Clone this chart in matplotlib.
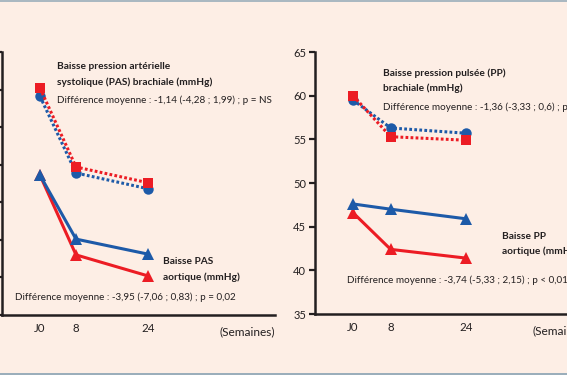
import matplotlib
matplotlib.use("Agg")
import matplotlib.pyplot as plt
from matplotlib.lines import Line2D

plt.rcParams['font.family'] = ['Lato', 'DejaVu Sans']

# ---- data ----
weeks = [0, 8, 24]
tick_labels = ["J0", "8", "24"]

# Left panel: systolic pressure (PAS)
pas_brach_blue = [139.1, 128.9, 126.8]
pas_brach_red = [140.2, 129.7, 127.6]
pas_aort_blue = [128.6, 120.1, 118.1]
pas_aort_red = [128.6, 118.0, 115.2]
pas_yticks = [110, 115, 120, 125, 130, 135, 140, 145]

# Right panel: pulse pressure (PP)
pp_brach_blue = [59.5, 56.3, 55.7]
pp_brach_red = [60.0, 55.3, 54.9]
pp_aort_blue = [47.6, 47.0, 45.9]
pp_aort_red = [46.6, 42.4, 41.4]
pp_yticks = [35, 40, 45, 50, 55, 60, 65]

RED = '#ec1c24'
BLUE = '#1d5aa8'
INK = '#231f20'
BG = '#fdeee5'

W, H = 567, 375
fig = plt.figure(figsize=(W / 100, H / 100), dpi=100, facecolor=BG)


def px_axes(left, bottom_px, width, height):
    return fig.add_axes([left / W, (H - bottom_px) / H, width / W, height / H])


def style(ax, xlim, ylim, yticks, show_ylabels):
    ax.set_facecolor('none')
    ax.set_xlim(*xlim)
    ax.set_ylim(*ylim)
    for s in ['top', 'right']:
        ax.spines[s].set_visible(False)
    for s in ['left', 'bottom']:
        ax.spines[s].set_linewidth(1.8)
        ax.spines[s].set_color(INK)
    ax.set_yticks(yticks)
    ax.tick_params(axis='y', direction='out', length=4.5, width=1.6, color=INK,
                   labelsize=8, labelcolor=INK, pad=2, labelleft=show_ylabels)
    ax.set_xticks(weeks)
    ax.set_xticklabels(tick_labels)
    ax.tick_params(axis='x', length=0, labelsize=8.3, labelcolor=INK, pad=6)
    ax.annotate("(Semaines)", xy=(1.0, 0), xycoords='axes fraction',
                xytext=(0, -12), textcoords='offset points', ha='right', va='center',
                fontsize=8.6, color=INK)


def draw(ax, bb, br, ab, ar):
    dot = (0, (0.9, 0.75))
    ax.plot(weeks, bb, color=BLUE, lw=2.2, ls=dot, dash_capstyle='butt',
            marker='o', ms=7.5, mew=0, zorder=3)
    ax.plot(weeks, br, color=RED, lw=2.2, ls=dot, dash_capstyle='butt',
            marker='s', ms=7.2, mew=0, zorder=4)
    ax.plot(weeks, ar, color=RED, lw=2.2, ls='-', marker='^', ms=9, mew=0, zorder=3)
    ax.plot(weeks, ab, color=BLUE, lw=2.2, ls='-', marker='^', ms=9, mew=0, zorder=4)


def txt(ax, x, y, s, bold=False):
    ax.text(x, y, s, transform=ax.transAxes, ha='left', va='center',
            fontsize=7.3 if bold else 7.1,
            fontweight='bold' if bold else 'normal', color=INK, clip_on=False)


# Left panel
axL = px_axes(2, 315, 273, 263)
style(axL, (-8.44, 52.2), (110, 145), pas_yticks, False)
draw(axL, pas_brach_blue, pas_brach_red, pas_aort_blue, pas_aort_red)
txt(axL, 0.2015, 0.943, "Baisse pression artérielle", True)
txt(axL, 0.2015, 0.886, "systolique (PAS) brachiale (mmHg)", True)
txt(axL, 0.2015, 0.8175, "Différence moyenne : -1,14 (-4,28 ; 1,99) ; p = NS")
txt(axL, 0.590, 0.205, "Baisse PAS", True)
txt(axL, 0.590, 0.1445, "aortique (mmHg)", True)
txt(axL, 0.0476, 0.0684, "Différence moyenne : -3,95 (-7,06 ; 0,83) ; p = 0,02")

# Right panel
axR = px_axes(315, 314, 273, 262)
style(axR, (-8.07, 49.9), (35, 65), pp_yticks, True)
draw(axR, pp_brach_blue, pp_brach_red, pp_aort_blue, pp_aort_red)
txt(axR, 0.249, 0.920, "Baisse pression pulsée (PP)", True)
txt(axR, 0.249, 0.8626, "brachiale (mmHg)", True)
txt(axR, 0.249, 0.790, "Différence moyenne : -1,36 (-3,33 ; 0,6) ; p = NS")
txt(axR, 0.685, 0.294, "Baisse PP", True)
txt(axR, 0.685, 0.240, "aortique (mmHg)", True)
txt(axR, 0.117, 0.130, "Différence moyenne : -3,74 (-5,33 ; 2,15) ; p < 0,01")

# thin frame lines at top and bottom
fig.add_artist(Line2D([0, 1], [1 - 0.7 / H, 1 - 0.7 / H], color='#91a8b7', lw=1.1,
                      transform=fig.transFigure))
fig.add_artist(Line2D([0, 1], [1.0 / H, 1.0 / H], color='#91a8b7', lw=1.3,
                      transform=fig.transFigure))

fig.savefig("out.png", dpi=100, facecolor=BG)
